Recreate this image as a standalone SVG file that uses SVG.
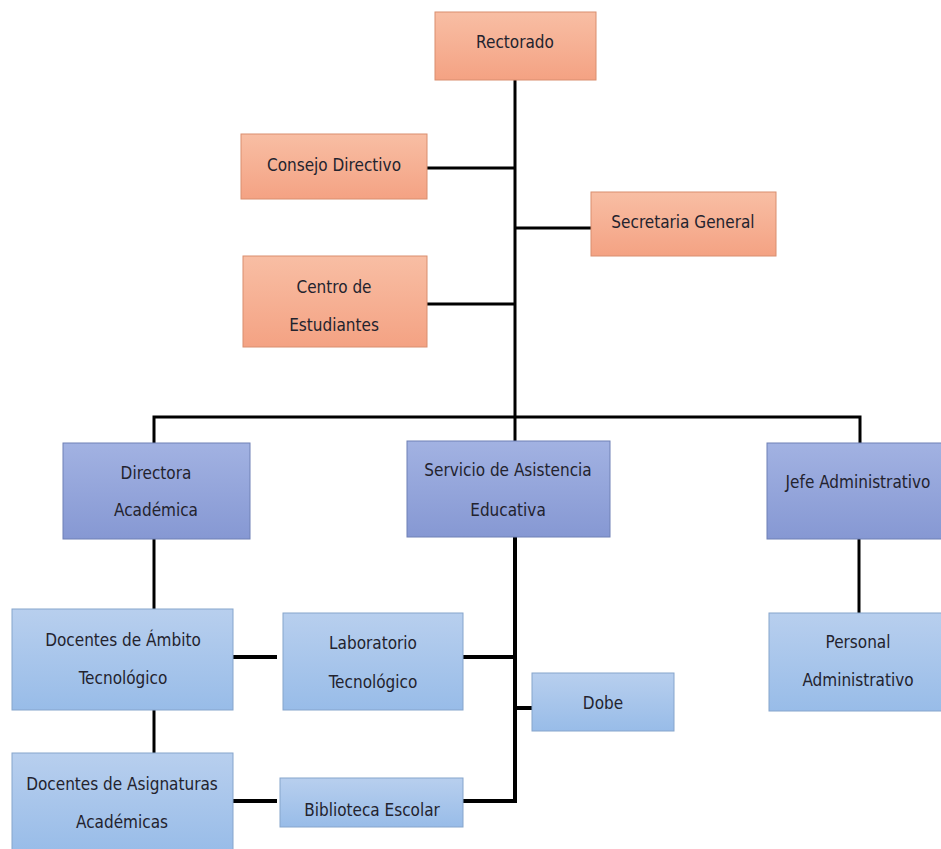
<svg xmlns="http://www.w3.org/2000/svg" width="941" height="849" viewBox="0 0 941 849">
<defs>
<linearGradient id="gO" x1="0" y1="0" x2="0" y2="1"><stop offset="0" stop-color="#F8BEA4"/><stop offset="1" stop-color="#F4A283"/></linearGradient>
<linearGradient id="gB" x1="0" y1="0" x2="0" y2="1"><stop offset="0" stop-color="#A2B2E2"/><stop offset="1" stop-color="#8698D3"/></linearGradient>
<linearGradient id="gL" x1="0" y1="0" x2="0" y2="1"><stop offset="0" stop-color="#B8CFEE"/><stop offset="1" stop-color="#98BCE8"/></linearGradient>
</defs>
<style>
.o{fill:url(#gO);stroke:#D98E6F;stroke-width:1}
.b{fill:url(#gB);stroke:#6F80B5;stroke-width:1}
.l{fill:url(#gL);stroke:#86A5CC;stroke-width:1}
text{font-family:"DejaVu Sans Condensed","Liberation Sans Narrow","Liberation Sans",sans-serif;font-size:17px;fill:#23232E;text-anchor:middle}
.c line,.c path{stroke:#000;stroke-width:3;fill:none}
.c .t{stroke-width:4}
</style>
<rect width="941" height="849" fill="#fff"/>
<g class="c" id="connectors">
<line x1="515" y1="80" x2="515" y2="417"/>
<line x1="427" y1="168" x2="515" y2="168"/>
<line x1="515" y1="228" x2="591" y2="228"/>
<line x1="427" y1="304" x2="515" y2="304"/>
<path d="M154 443 V417 H860 V443"/>
<line x1="515" y1="417" x2="515" y2="441"/>
<line x1="154" y1="539" x2="154" y2="609"/>
<line x1="154" y1="710" x2="154" y2="753"/>
<line class="t" x1="233" y1="657" x2="277" y2="657"/>
<line class="t" x1="233" y1="801" x2="277" y2="801"/>
<path class="t" d="M463 657 H515 M463 801 H515 V537"/>
<line class="t" x1="515" y1="708" x2="532" y2="708"/>
<line x1="859" y1="539" x2="859" y2="613"/>
</g>
<g id="rectorado"><rect class="o" x="435" y="12" width="161" height="68"/><text x="515" y="48">Rectorado</text></g>
<g id="consejo"><rect class="o" x="241" y="134" width="186" height="65"/><text x="334" y="171">Consejo Directivo</text></g>
<g id="secretaria"><rect class="o" x="591" y="192" width="185" height="64"/><text x="683" y="228">Secretaria General</text></g>
<g id="centro"><rect class="o" x="243" y="256" width="184" height="91"/><text x="334" y="293">Centro de</text><text x="334" y="331">Estudiantes</text></g>
<g id="directora"><rect class="b" x="63" y="443" width="187" height="96"/><text x="156" y="479">Directora</text><text x="156" y="516">Académica</text></g>
<g id="servicio"><rect class="b" x="407" y="441" width="203" height="96"/><text x="508" y="476">Servicio de Asistencia</text><text x="508" y="516">Educativa</text></g>
<g id="jefe"><rect class="b" x="767" y="443" width="175" height="96"/><text x="858" y="488">Jefe Administrativo</text></g>
<g id="docentes-ambito"><rect class="l" x="12" y="609" width="221" height="101"/><text x="123" y="646">Docentes de Ámbito</text><text x="123" y="684">Tecnológico</text></g>
<g id="laboratorio"><rect class="l" x="283" y="613" width="180" height="97"/><text x="373" y="649">Laboratorio</text><text x="373" y="688">Tecnológico</text></g>
<g id="dobe"><rect class="l" x="532" y="673" width="142" height="58"/><text x="603" y="709">Dobe</text></g>
<g id="personal"><rect class="l" x="769" y="613" width="173" height="98"/><text x="858" y="648">Personal</text><text x="858" y="686">Administrativo</text></g>
<g id="docentes-asignaturas"><rect class="l" x="12" y="753" width="221" height="100"/><text x="122" y="790">Docentes de Asignaturas</text><text x="122" y="828">Académicas</text></g>
<g id="biblioteca"><rect class="l" x="280" y="778" width="183" height="49"/><text x="372" y="816">Biblioteca Escolar</text></g>
</svg>
